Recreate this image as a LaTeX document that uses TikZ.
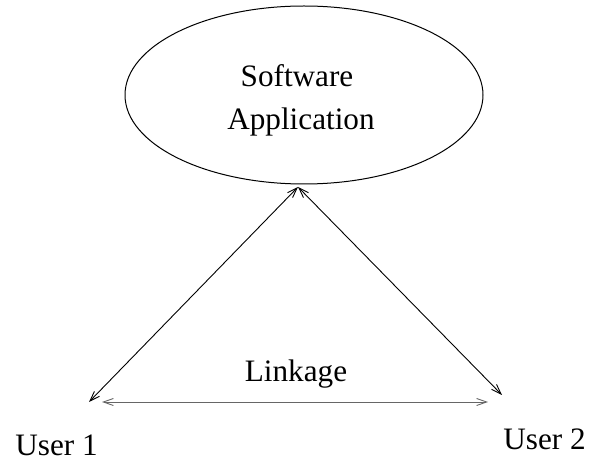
\documentclass[tikz,border=0pt]{standalone}
\usepackage{fontspec}
\setmainfont{Liberation Serif}
\usepackage{tikz}
\usetikzlibrary{positioning, arrows.meta, shapes.geometric}

\begin{document}
\begin{tikzpicture}[x=0.5pt, y=0.5pt,
  font=\fontsize{15.6}{19}\selectfont,
  appbox/.style={draw, ellipse, line width=0.5pt, minimum width=179pt,
                 minimum height=89pt, inner sep=0pt},
  lbl/.style={inner sep=0pt, anchor=base},
  arr/.style={{Straight Barb[length=5pt,width=3.5pt]}-{Straight Barb[length=5pt,width=3.5pt]},
              line width=0.45pt, draw=black},
  linkarr/.style={arr, draw=black!60}]

  \useasboundingbox (0,0) rectangle (590,461);

  % Application ellipse and its two text lines
  \node[appbox] (app) at (304,366) {};
  \node[lbl] (swtext) at (297,374) {Software};
  \node[lbl] (aptext) at (301,331) {Application};

  % End points of the links
  \coordinate (top) at (298,274);
  \coordinate (u1tip) at (89,59);
  \coordinate (u2tip) at (502,66);
  \coordinate (l1) at (102,59);
  \coordinate (l2) at (488,59);

  % Labels
  \node[lbl] (link) at (296,79) {Linkage};
  \node[lbl, anchor=base west] (user1) at (15,5) {User 1};
  \node[lbl, anchor=base west] (user2) at (503,11) {User 2};

  % Arrows
  \draw[arr] (u1tip) -- (top);
  \draw[arr] (top) -- (u2tip);
  \draw[linkarr] (l1) -- (l2);
\end{tikzpicture}
\end{document}
